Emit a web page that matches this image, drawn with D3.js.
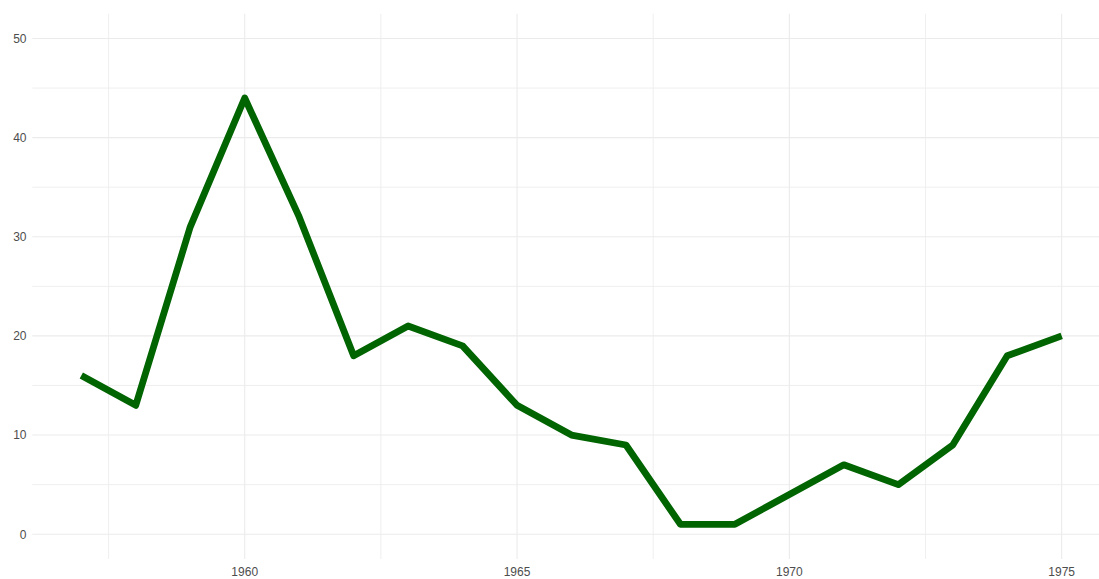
<!DOCTYPE html>
<html>
<head>
<meta charset="utf-8">
<script src="https://cdn.jsdelivr.net/npm/d3@7"></script>
<style>
  html, body { margin: 0; padding: 0; background: #fff; }
  svg { display: block; }
</style>
</head>
<body>
<svg id="chart" width="1099" height="579"></svg>
<script>
const years = [1957,1958,1959,1960,1961,1962,1963,1964,1965,1966,1967,1968,1969,1970,1971,1972,1973,1974,1975];
const values = [16,13,31,44,32,18,21,19,13,10,9,1,1,4,7,5,9,18,20];
const xTicks = [1960,1965,1970,1975];
const xMinor = [1957.5,1962.5,1967.5,1972.5];
const yTicks = [0,10,20,30,40,50];
const yMinor = [5,15,25,35,45];

const W = 1099, H = 579;
const panel = {left: 32.3, right: 1110.7, top: 13.7, bottom: 559};

const x = d3.scaleLinear().domain([1956.1, 1975.9]).range([panel.left, panel.right]);
const y = d3.scaleLinear().domain([-2.5, 52.5]).range([panel.bottom, panel.top]);

const svg = d3.select("#chart");
svg.append("rect").attr("width", W).attr("height", H).attr("fill", "#fff");

const g = svg.append("g");
const gridColor = "#EBEBEB";

// minor grid
g.selectAll(".ymin").data(yMinor).enter().append("line")
  .attr("x1", panel.left).attr("x2", panel.right)
  .attr("y1", d => y(d)).attr("y2", d => y(d))
  .attr("stroke", gridColor).attr("stroke-width", 0.8);
g.selectAll(".xmin").data(xMinor).enter().append("line")
  .attr("y1", panel.top).attr("y2", panel.bottom)
  .attr("x1", d => x(d)).attr("x2", d => x(d))
  .attr("stroke", gridColor).attr("stroke-width", 0.8);
// major grid
g.selectAll(".ymaj").data(yTicks).enter().append("line")
  .attr("x1", panel.left).attr("x2", panel.right)
  .attr("y1", d => y(d)).attr("y2", d => y(d))
  .attr("stroke", gridColor).attr("stroke-width", 1.1);
g.selectAll(".xmaj").data(xTicks).enter().append("line")
  .attr("y1", panel.top).attr("y2", panel.bottom)
  .attr("x1", d => x(d)).attr("x2", d => x(d))
  .attr("stroke", gridColor).attr("stroke-width", 1.1);

// line
const line = d3.line().x((d, i) => x(years[i])).y(d => y(d));
g.append("path").datum(values)
  .attr("d", line)
  .attr("fill", "none")
  .attr("stroke", "#006400")
  .attr("stroke-width", 6.8)
  .attr("stroke-linejoin", "round")
  .attr("stroke-linecap", "butt");

// axis labels
const font = "'Liberation Sans', Arial, sans-serif";
svg.selectAll(".ylab").data(yTicks).enter().append("text")
  .attr("x", 26.5).attr("y", d => y(d))
  .attr("dy", "0.36em")
  .attr("text-anchor", "end")
  .attr("font-family", font).attr("font-size", 12)
  .attr("fill", "#4D4D4D")
  .text(d => d);
svg.selectAll(".xlab").data(xTicks).enter().append("text")
  .attr("x", d => x(d)).attr("y", 576)
  .attr("text-anchor", "middle")
  .attr("font-family", font).attr("font-size", 12)
  .attr("fill", "#4D4D4D")
  .text(d => d);
</script>
</body>
</html>
